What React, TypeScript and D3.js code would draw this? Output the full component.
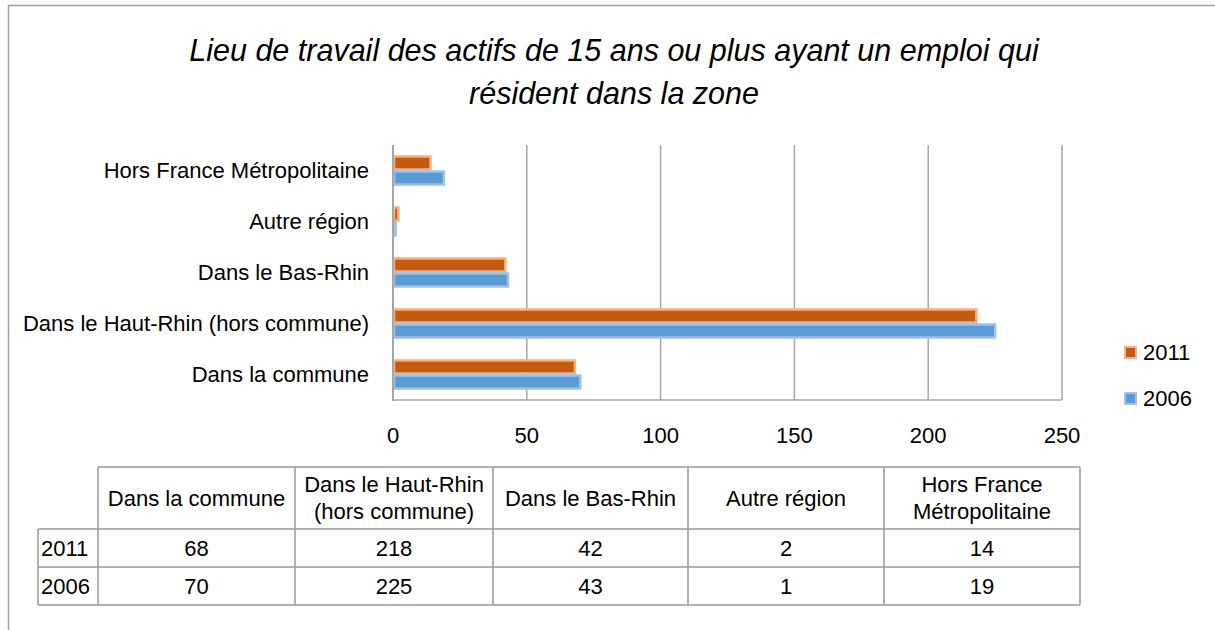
import * as d3 from "d3";

const categories = [
  "Dans la commune",
  "Dans le Haut-Rhin (hors commune)",
  "Dans le Bas-Rhin",
  "Autre région",
  "Hors France Métropolitaine",
];
// table header labels (wrapped as in the picture)
const headerLines = [
  ["Dans la commune"],
  ["Dans le Haut-Rhin", "(hors commune)"],
  ["Dans le Bas-Rhin"],
  ["Autre région"],
  ["Hors France", "Métropolitaine"],
];
const values2011 = [68, 218, 42, 2, 14];
const values2006 = [70, 225, 43, 1, 19];
const seriesNames = ["2011", "2006"];
const xTicks = [0, 50, 100, 150, 200, 250];

const font = "'Liberation Sans', Arial, sans-serif";
const fs = 22;
const colors = {
  "2011": { fill: "#C55A11", stroke: "#F4B183" },
  "2006": { fill: "#5B9BD5", stroke: "#9DC3E6" },
};

const App = () => {
  const width = 1215;
  const height = 630;

  const x = d3.scaleLinear().domain([0, 250]).range([393, 1062]);
  // chart shows the last category at top
  const y = d3
    .scaleBand()
    .domain([...categories].reverse())
    .range([145, 400])
    .paddingInner(0.41)
    .paddingOuter(0.205);
  const sub = d3.scaleBand().domain(seriesNames).range([0, y.bandwidth()]);

  const series = [
    { name: "2011", values: values2011 },
    { name: "2006", values: values2006 },
  ];

  // table geometry
  const colEdges = [98, 295, 493, 688, 884, 1080];
  const rowEdges = [467, 529, 567, 605];
  const tableLeft = 38;
  const gridColor = "#999";

  return (
    <svg width={width} height={height} style={{ display: "block", position: "absolute", left: 0, top: 0 }}>
      <rect x={0} y={0} width={width} height={height} fill="#fff" />
      <rect x={8.5} y={5.5} width={1240} height={660} fill="none" stroke="#a0a0a0" strokeWidth={1.5} />

      {/* title */}
      <text textAnchor="middle" fontFamily={font} fontStyle="italic" fontSize={30.5} fill="#000">
        <tspan x={614} y={61}>Lieu de travail des actifs de 15 ans ou plus ayant un emploi qui</tspan>
        <tspan x={614} y={104}>résident dans la zone</tspan>
      </text>

      {/* gridlines */}
      {xTicks.slice(1).map((t) => (
        <line key={t} x1={x(t)} x2={x(t)} y1={145} y2={400} stroke="#a6a6a6" strokeWidth={1.5} />
      ))}
      <line x1={x(0)} x2={x(250)} y1={400} y2={400} stroke="#a6a6a6" strokeWidth={1.5} />

      {/* bars */}
      {series.map((s) =>
        s.values.map((v, i) => (
          <rect
            key={s.name + i}
            x={x(0) + 1}
            y={(y(categories[i]) ?? 0) + (sub(s.name) ?? 0) + 1}
            width={x(v) - x(0) - 1}
            height={sub.bandwidth() - 2}
            fill={colors[s.name].fill}
            stroke={colors[s.name].stroke}
            strokeWidth={2.5}
          />
        ))
      )}
      <line x1={x(0)} x2={x(0)} y1={145} y2={401} stroke="#a6a6a6" strokeWidth={2} />

      {/* category labels */}
      {categories.map((c) => (
        <text
          key={c}
          x={369}
          y={(y(c) ?? 0) + y.bandwidth() / 2}
          dy="0.35em"
          textAnchor="end"
          fontFamily={font}
          fontSize={fs}
          fill="#000"
        >
          {c}
        </text>
      ))}

      {/* x tick labels */}
      {xTicks.map((t) => (
        <text key={t} x={x(t)} y={443} textAnchor="middle" fontFamily={font} fontSize={fs} fill="#000">
          {t}
        </text>
      ))}

      {/* legend */}
      {series.map((s, i) => (
        <g key={s.name} transform={`translate(1124, ${346 + i * 46})`}>
          <rect x={1} y={1} width={11} height={11} fill={colors[s.name].fill} stroke={colors[s.name].stroke} strokeWidth={2} />
          <text x={19} y={14} fontFamily={font} fontSize={fs} fill="#000">
            {s.name}
          </text>
        </g>
      ))}

      {/* data table */}
      <g stroke={gridColor} strokeWidth={1.5} fill="none">
        <line x1={colEdges[0]} x2={colEdges[5]} y1={rowEdges[0]} y2={rowEdges[0]} />
        {rowEdges.slice(1).map((r) => (
          <line key={r} x1={tableLeft} x2={colEdges[5]} y1={r} y2={r} />
        ))}
        <line x1={tableLeft} x2={tableLeft} y1={rowEdges[1]} y2={rowEdges[3]} />
        {colEdges.map((c) => (
          <line key={c} x1={c} x2={c} y1={rowEdges[0]} y2={rowEdges[3]} />
        ))}
      </g>
      {headerLines.map((lines, i) => {
        const cx = (colEdges[i] + colEdges[i + 1]) / 2;
        const cy = (rowEdges[0] + rowEdges[1]) / 2;
        return (
          <text key={i} textAnchor="middle" fontFamily={font} fontSize={fs} fill="#000">
            {lines.map((l, j) => (
              <tspan key={j} x={cx} y={cy + (j - (lines.length - 1) / 2) * 27} dy="0.35em">
                {l}
              </tspan>
            ))}
          </text>
        );
      })}
      {series.map((s, r) => {
        const cy = (rowEdges[r + 1] + rowEdges[r + 2]) / 2;
        return (
          <g key={s.name}>
            <text x={tableLeft + 3} y={cy} dy="0.35em" fontFamily={font} fontSize={fs} fill="#000">
              {s.name}
            </text>
            {s.values.map((v, i) => (
              <text
                key={i}
                x={(colEdges[i] + colEdges[i + 1]) / 2}
                y={cy}
                dy="0.35em"
                textAnchor="middle"
                fontFamily={font}
                fontSize={fs}
                fill="#000"
              >
                {v}
              </text>
            ))}
          </g>
        );
      })}
    </svg>
  );
};

export default App;
